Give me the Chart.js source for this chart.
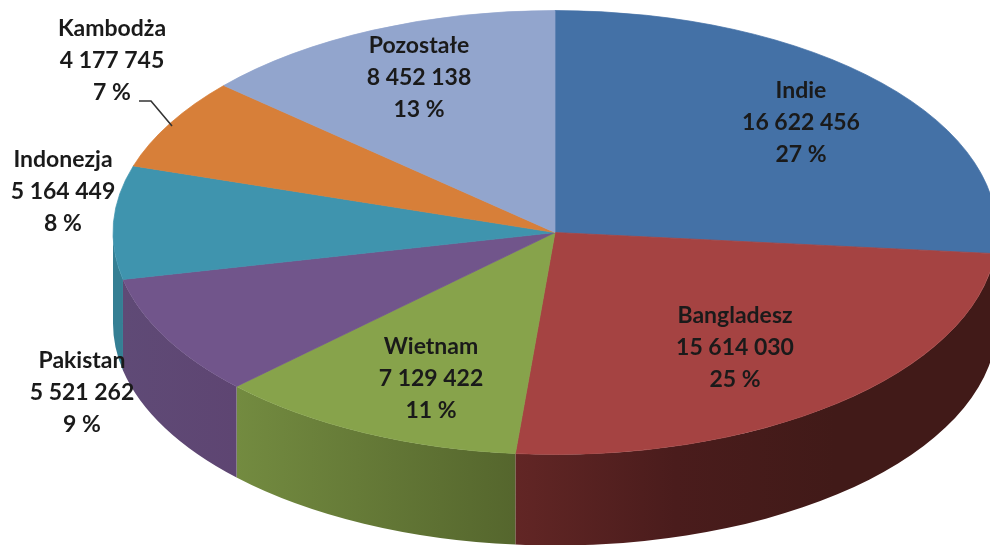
<!DOCTYPE html>
<html>
<head>
<meta charset="utf-8">
<title>Pie chart</title>
<script src="https://cdn.jsdelivr.net/npm/chart.js@4"></script>
<style>
html, body { margin: 0; padding: 0; background: #fff; overflow: hidden; }
canvas { display: block; }
</style>
</head>
<body>
<canvas id="pie3d" width="990" height="545"></canvas>
<script>
//################### Chart data ###################
const categories = ['Indie', 'Bangladesz', 'Wietnam', 'Pakistan', 'Indonezja', 'Kambodża', 'Pozostałe'];
const values = [16622456, 15614030, 7129422, 5521262, 5164449, 4177745, 8452138];
const sliceColors = ['#4471a6', '#a54342', '#87a34b', '#71558b', '#3f94ae', '#d77f39', '#92a5cd'];

//################### Layout of the fake 3D pie ###################
const pieCenter = { x: 555, y: 232.5 };
const pieRadius = { x: 442, y: 222 };
const pieDepth = 91;

// wall gradient for each slice, left to right
const wallColors = [
    ['#3f1a18', '#3f1a18'],
    ['#622625', '#4a1c1c', '#411a18', '#411a18'],
    ['#738b40', '#55662d'],
    ['#5f4a76', '#5e4572'],
    ['#357f94', '#357f94'],
    ['#a8622b', '#a8622b'],
    ['#7283a3', '#7283a3']
];

// middle of each label block
const labelCenters = [
    [801, 123], [735, 348], [431, 379], [82, 393], [63, 192], [112, 61], [419, 78]
];
const labelLineHeight = 32;
const leaderLine = [[139, 101], [151, 101], [172, 126]];

const total = values.reduce((a, b) => a + b, 0);
const formatValue = (v) => String(v).replace(/\B(?=(\d{3})+$)/g, '\u00a0');

//################### Side walls and squashing of the pie ###################
const pie3dPlugin = {
    id: 'pie3d',
    beforeDatasetsDraw(chart) {
        const ctx = chart.ctx;
        const arcs = chart.getDatasetMeta(0).data;

        arcs.forEach((arc, i) => {
            // only the part facing the viewer has a wall
            const a0 = Math.max(arc.startAngle, 0);
            const a1 = Math.min(arc.endAngle, Math.PI);
            if (a1 <= a0) return;

            const xs = [a0, a1].map(a => pieCenter.x + pieRadius.x * Math.cos(a));
            const left = a0 < Math.PI && a1 >= Math.PI ? pieCenter.x - pieRadius.x : Math.min(...xs);
            const right = a0 <= 0 ? pieCenter.x + pieRadius.x : Math.max(...xs);
            const grad = ctx.createLinearGradient(left, 0, right, 0);
            wallColors[i].forEach((c, n) => grad.addColorStop(n / (wallColors[i].length - 1), c));

            ctx.save();
            ctx.beginPath();
            ctx.ellipse(pieCenter.x, pieCenter.y, pieRadius.x, pieRadius.y, 0, a0, a1);
            ctx.ellipse(pieCenter.x, pieCenter.y + pieDepth, pieRadius.x, pieRadius.y, 0, a1, a0, true);
            ctx.closePath();
            ctx.fillStyle = grad;
            ctx.fill();
            ctx.restore();
        });

        // top face: the arcs are drawn by Chart.js in a squashed space
        const first = arcs[0];
        const r = first.outerRadius;
        ctx.save();
        ctx.translate(pieCenter.x, pieCenter.y);
        ctx.scale(pieRadius.x / r, pieRadius.y / r);
        ctx.translate(-first.x, -first.y);
    },
    afterDatasetsDraw(chart) {
        chart.ctx.restore();
    },
    afterDraw(chart) {
        const ctx = chart.ctx;
        ctx.save();
        ctx.filter = 'blur(0.45px)';

        ctx.strokeStyle = '#333333';
        ctx.lineWidth = 1.6;
        ctx.beginPath();
        leaderLine.forEach((p, i) => (i ? ctx.lineTo(p[0], p[1]) : ctx.moveTo(p[0], p[1])));
        ctx.stroke();

        ctx.font = 'bold 23px Lato, "Open Sans", sans-serif';
        ctx.fillStyle = '#1a1a1a';
        ctx.textAlign = 'center';
        ctx.textBaseline = 'middle';
        categories.forEach((name, i) => {
            const [x, y] = labelCenters[i];
            ctx.fillText(name, x, y - labelLineHeight);
            ctx.fillText(formatValue(values[i]), x, y);
            ctx.fillText(Math.round(values[i] / total * 100) + '\u00a0%', x, y + labelLineHeight);
        });
        ctx.restore();
    }
};

//################### Plot pie chart ###################
new Chart(document.getElementById('pie3d').getContext('2d'), {
    type: 'pie',
    data: {
        labels: categories,
        datasets: [{
            data: values,
            backgroundColor: sliceColors,
            borderColor: sliceColors,
            borderWidth: 0.6,
            clip: false
        }]
    },
    options: {
        responsive: false,
        animation: false,
        layout: { padding: 0 },
        plugins: {
            legend: { display: false },
            tooltip: { enabled: false }
        }
    },
    plugins: [pie3dPlugin]
});
</script>
</body>
</html>
